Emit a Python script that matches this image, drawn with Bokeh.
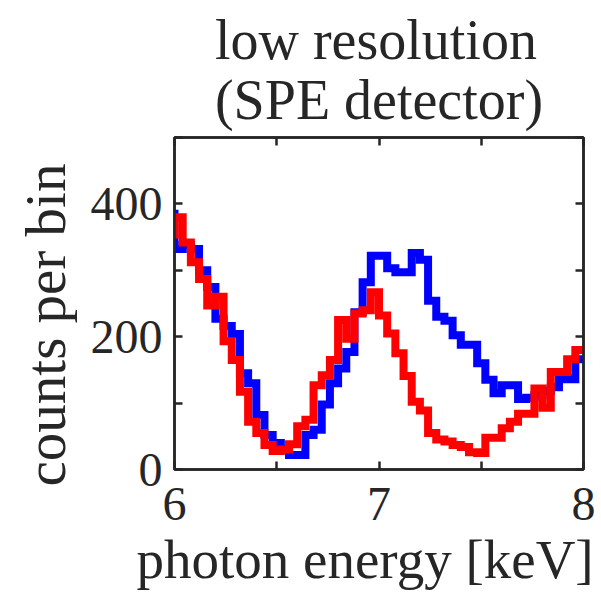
from bokeh.plotting import figure
from bokeh.models import LinearAxis, FixedTicker, Range1d, Title
from bokeh.embed import file_html
from bokeh.resources import INLINE

# bin edges [keV] (first bin lies just left of the shown range)
bin_edges = [5.96, 6.00, 6.04, 6.08, 6.12, 6.16, 6.20, 6.24, 6.28, 6.32, 6.36,
             6.40, 6.44, 6.48, 6.52, 6.56, 6.60, 6.64, 6.68, 6.72, 6.76,
             6.80, 6.84, 6.88, 6.92, 6.96, 7.00, 7.04, 7.08, 7.12, 7.16,
             7.20, 7.24, 7.28, 7.32, 7.36, 7.40, 7.44, 7.48, 7.52, 7.56,
             7.60, 7.64, 7.68, 7.72, 7.76, 7.80, 7.84, 7.88, 7.92, 7.96, 8.00]

# counts per bin, one per bin (len(bin_edges) - 1)
blue_counts = [385, 332, 338, 332, 300, 275, 227, 216, 204, 145, 130,
               82, 52, 40, 31, 22, 22, 52, 60, 98, 130,
               152, 177, 237, 282, 322, 322, 303, 297, 297, 326,
               316, 254, 230, 224, 202, 188, 188, 160, 135, 115,
               127, 127, 106, 108, 112, 118, 124, 136, 136, 166]
red_counts = [354, 380, 342, 312, 287, 247, 260, 193, 165, 117, 72,
              55, 37, 28, 30, 38, 65, 75, 127, 142, 165,
              225, 197, 235, 240, 267, 232, 205, 175, 141, 102,
              89, 55, 45, 42, 37, 34, 26, 25, 48, 48,
              62, 72, 84, 84, 122, 93, 147, 147, 166, 180]

x_ticks = [6, 6.5, 7, 7.5, 8]
x_tick_labels = {6: "6", 6.5: "", 7: "7", 7.5: "", 8: "8"}
y_ticks = [0, 100, 200, 300, 400, 500]
y_tick_labels = {0: "0", 100: "", 200: "200", 300: "", 400: "400", 500: ""}

title_lines = ["low resolution", "(SPE detector)"]
x_label = "photon energy [keV]"
y_label = "counts per bin"

FONT = "Liberation Serif"
INK = "#262626"

p = figure(width=601, height=593, output_backend="svg", toolbar_location=None,
           x_range=Range1d(6, 8), y_range=Range1d(0, 500),
           min_border_left=173, min_border_right=18,
           min_border_top=137, min_border_bottom=122)
p.background_fill_color = "white"
p.border_fill_color = "white"
p.grid.visible = False
p.outline_line_color = INK
p.outline_line_width = 2.5

def style_axis(ax, ticks, overrides, show_labels=True):
    ax.ticker = FixedTicker(ticks=ticks)
    ax.major_tick_in = 8
    ax.major_tick_out = 0
    ax.minor_tick_in = 0
    ax.minor_tick_out = 0
    ax.axis_line_color = INK
    ax.axis_line_width = 2.5
    ax.major_tick_line_color = INK
    ax.major_tick_line_width = 2.5
    ax.major_label_text_font = FONT
    if show_labels:
        ax.major_label_overrides = overrides
        ax.major_label_text_color = INK
        ax.major_label_text_font_size = "48px"
    else:
        ax.major_label_overrides = {t: "" for t in ticks}
        ax.major_label_text_color = None
        ax.major_label_text_font_size = "1px"
        ax.major_label_standoff = 0

style_axis(p.xaxis[0], x_ticks, x_tick_labels)
style_axis(p.yaxis[0], y_ticks, y_tick_labels)
p.xaxis[0].major_label_standoff = 18
p.yaxis[0].major_label_standoff = 12

top_ax = LinearAxis()
right_ax = LinearAxis()
style_axis(top_ax, x_ticks, x_tick_labels, show_labels=False)
style_axis(right_ax, y_ticks, y_tick_labels, show_labels=False)
p.add_layout(top_ax, "above")
p.add_layout(right_ax, "right")

blue_y = blue_counts + [blue_counts[-1]]
red_y = red_counts + [red_counts[-1]]

p.step(bin_edges, blue_y, mode="after", line_color="#0000FF", line_width=8,
       line_join="miter", line_cap="butt")
p.step(bin_edges, red_y, mode="after", line_color="#FF0000", line_width=8,
       line_join="miter", line_cap="butt")

# axis labels as side titles
p.add_layout(Title(text=x_label, align="left", offset=-38, text_font=FONT,
                   text_font_size="55px", text_font_style="normal",
                   text_color=INK, standoff=8), "below")
p.add_layout(Title(text=y_label, align="left", offset=-17, text_font=FONT,
                   text_font_size="57px", text_font_style="normal",
                   text_color=INK, standoff=22), "left")

# two-line title
p.add_layout(Title(text="\n".join(title_lines), align="center",
                   text_font=FONT, text_font_size="56px",
                   text_font_style="normal", text_color=INK,
                   text_line_height=0.97, standoff=13), "above")

open("out.html", "w").write(file_html(p, INLINE))
